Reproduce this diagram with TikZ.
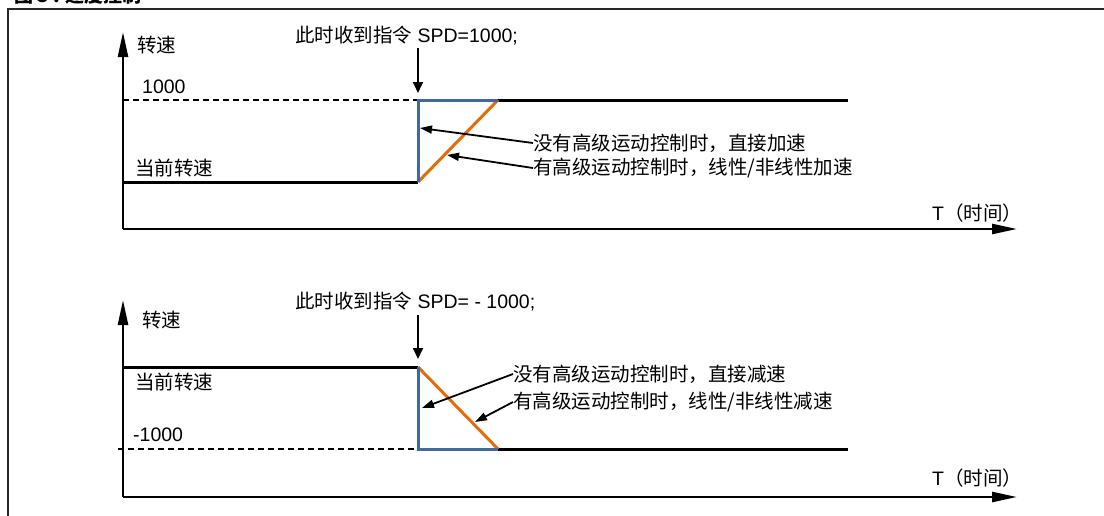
\documentclass[tikz,border=0pt]{standalone}
\usepackage{fontspec}
\setmainfont{Liberation Sans}
\newfontfamily\cjk{Noto Sans CJK SC}
\usetikzlibrary{arrows.meta}
\definecolor{cblue}{RGB}{65,105,160}
\definecolor{corange}{RGB}{228,108,10}
\definecolor{frame}{RGB}{40,40,40}
\tikzset{
  lbl/.style={inner sep=0pt, anchor=west, font=\fontsize{19.5}{22}\selectfont},
  axisline/.style={line width=2.5pt, -{Triangle[length=25pt,width=10pt]}},
  thickline/.style={line width=3pt, black},
  blueline/.style={line width=3pt, cblue, line join=miter},
  orangeline/.style={line width=3pt, corange},
  dashline/.style={line width=1.3pt, dash pattern=on 6pt off 4pt},
  downarrow/.style={line width=1.8pt, -{Triangle[length=11pt,width=10pt]}},
  callout/.style={line width=1.8pt, -{Triangle[length=12pt,width=8pt]}},
}
\begin{document}
\begin{tikzpicture}[x=1pt,y=-1pt]
\useasboundingbox (0,0) rectangle (1104,515);
% frame and caption
\draw[frame, line width=1.5pt] (8,530) -- (8,9) -- (1120,9);
\node[lbl, font=\fontsize{19}{22}\selectfont\bfseries] (cap) at (14,-5) {\cjk 图 3 : 速度控制};

% ---------- top chart ----------
\coordinate (o1) at (123,229);
\coordinate (ytop1) at (123,32);
\coordinate (xend1) at (1017,229);
\draw[axisline] (o1) -- (ytop1);
\draw[axisline] (o1) -- (xend1);
\node[lbl] (ys1) at (137,45) {\cjk 转速};
\node[lbl] (cmd1) at (295,36) {{\cjk 此时收到指令} SPD=1000;};
\node[lbl] (v1) at (142,87) {1000};
\node[lbl] (cur1) at (135,168) {\cjk 当前转速};
\node[lbl] (ta1) at (533,143) {\cjk 没有高级运动控制时，直接加速};
\node[lbl] (tb1) at (533,168) {\cjk 有高级运动控制时，线性/非线性加速};
\node[lbl] (tx1) at (932,213) {T{\cjk （时间）}};

\coordinate (a1) at (123,182);
\coordinate (b1) at (418,182);
\coordinate (c1) at (418,100);
\coordinate (d1) at (498,100);
\coordinate (e1) at (848,100);
\coordinate (l1) at (123,100);
\draw[dashline] (l1) -- (c1);
\draw[thickline] (a1) -- (b1);
\draw[thickline] (d1) -- (e1);
\draw[orangeline] (b1) -- (d1);
\draw[blueline] (b1) -- (c1) -- (d1);
\coordinate (dn1s) at (418,48);
\coordinate (dn1e) at (418,93);
\draw[downarrow] (dn1s) -- (dn1e);
\coordinate (p1) at (420,128);
\coordinate (q1) at (447,155);
\draw[callout] (ta1.west) -- (p1);
\draw[callout] (tb1.west) -- (q1);

% ---------- bottom chart ----------
\coordinate (o2) at (123,497);
\coordinate (ytop2) at (123,300);
\coordinate (xend2) at (1017,497);
\draw[axisline] (o2) -- (ytop2);
\draw[axisline] (o2) -- (xend2);
\node[lbl] (ys2) at (142,320) {\cjk 转速};
\node[lbl] (cmd2) at (295,302) {{\cjk 此时收到指令} SPD= - 1000;};
\node[lbl] (cur2) at (135,382) {\cjk 当前转速};
\node[lbl] (v2) at (133,435) {-1000};
\node[lbl] (ta2) at (513,374) {\cjk 没有高级运动控制时，直接减速};
\node[lbl] (tb2) at (513,402) {\cjk 有高级运动控制时，线性/非线性减速};
\node[lbl] (tx2) at (932,478) {T{\cjk （时间）}};

\coordinate (a2) at (123,367);
\coordinate (b2) at (418,367);
\coordinate (c2) at (418,449);
\coordinate (d2) at (498,449);
\coordinate (e2) at (848,449);
\coordinate (l2) at (118,449);
\draw[dashline] (l2) -- (c2);
\draw[thickline] (a2) -- (b2);
\draw[thickline] (d2) -- (e2);
\draw[orangeline] (b2) -- (d2);
\draw[blueline] (b2) -- (c2) -- (d2);
\coordinate (dn2s) at (418,315);
\coordinate (dn2e) at (418,359);
\draw[downarrow] (dn2s) -- (dn2e);
\coordinate (p2) at (422,408);
\coordinate (q2) at (475,422);
\draw[callout] (ta2.west) -- (p2);
\draw[callout] (tb2.west) -- (q2);
\end{tikzpicture}
\end{document}
